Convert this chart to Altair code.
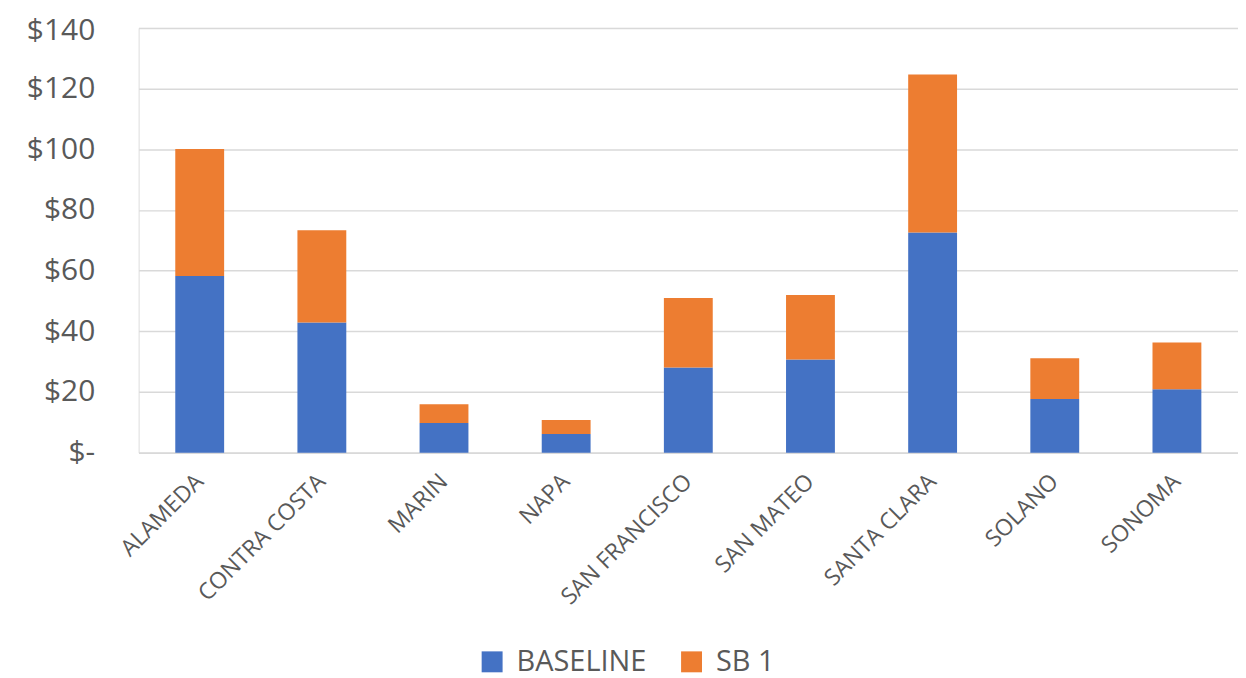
import altair as alt
import pandas as pd

counties = ["ALAMEDA", "CONTRA COSTA", "MARIN", "NAPA", "SAN FRANCISCO",
            "SAN MATEO", "SANTA CLARA", "SOLANO", "SONOMA"]
baseline = [58.2, 42.9, 9.8, 6.2, 28.1, 30.7, 72.6, 17.7, 20.9]
sb1 = [41.9, 30.4, 6.2, 4.6, 22.9, 21.3, 52.0, 13.4, 15.4]
series = ["BASELINE", "SB 1"]
colors = ["#4472C4", "#ED7D31"]

rows = []
for c, b, s in zip(counties, baseline, sb1):
    rows.append({"county": c, "series": series[0], "value": b, "ord": 0})
    rows.append({"county": c, "series": series[1], "value": s, "ord": 1})
df = pd.DataFrame(rows)

FONT = "Open Sans"
GREY = "#595959"

chart = alt.Chart(df).mark_bar().encode(
    x=alt.X("county:N", sort=counties, title=None,
            scale=alt.Scale(paddingInner=0.6, paddingOuter=0.3),
            axis=alt.Axis(labelAngle=-45, labelAlign="right", labelBaseline="middle",
                          labelFont=FONT, labelFontSize=23, labelColor=GREY,
                          labelPadding=25, ticks=False, domain=True,
                          domainColor="#D9D9D9", domainWidth=1.5, grid=False)),
    y=alt.Y("value:Q", stack="zero", title=None,
            scale=alt.Scale(domain=[0, 140], nice=False),
            axis=alt.Axis(values=[0, 20, 40, 60, 80, 100, 120, 140],
                          labelExpr="datum.value == 0 ? '$-\u00a0\u00a0' : '$' + datum.value",
                          labelFont=FONT, labelFontSize=30, labelColor=GREY,
                          labelBaseline={"condition": {"test": "datum.value == 140", "value": "top"},
                                         "value": "middle"},
                          labelOffset={"condition": {"test": "datum.value == 140", "value": -12},
                                       "value": 0},
                          labelPadding=44, ticks=False, domain=False,
                          grid=True, gridColor="#D9D9D9", gridWidth=1.5)),
    color=alt.Color("series:N", sort=series,
                    scale=alt.Scale(domain=series, range=colors),
                    legend=alt.Legend(title=None, orient="none", direction="horizontal",
                                      legendX=340, legendY=621,
                                      symbolType="square", symbolSize=441,
                                      symbolStrokeWidth=0,
                                      labelFont=FONT, labelFontSize=29, labelColor=GREY,
                                      labelOffset=10, columnPadding=30)),
    order=alt.Order("ord:Q", sort="ascending"),
).properties(
    width=1102.5, height=426,
    autosize=alt.AutoSizeParams(type="none"),
    padding={"left": 131, "top": 19, "right": 0, "bottom": 225},
).configure_view(stroke=None).configure(background="white")

chart.save("out.html", embed_options={"renderer": "svg", "actions": False})
